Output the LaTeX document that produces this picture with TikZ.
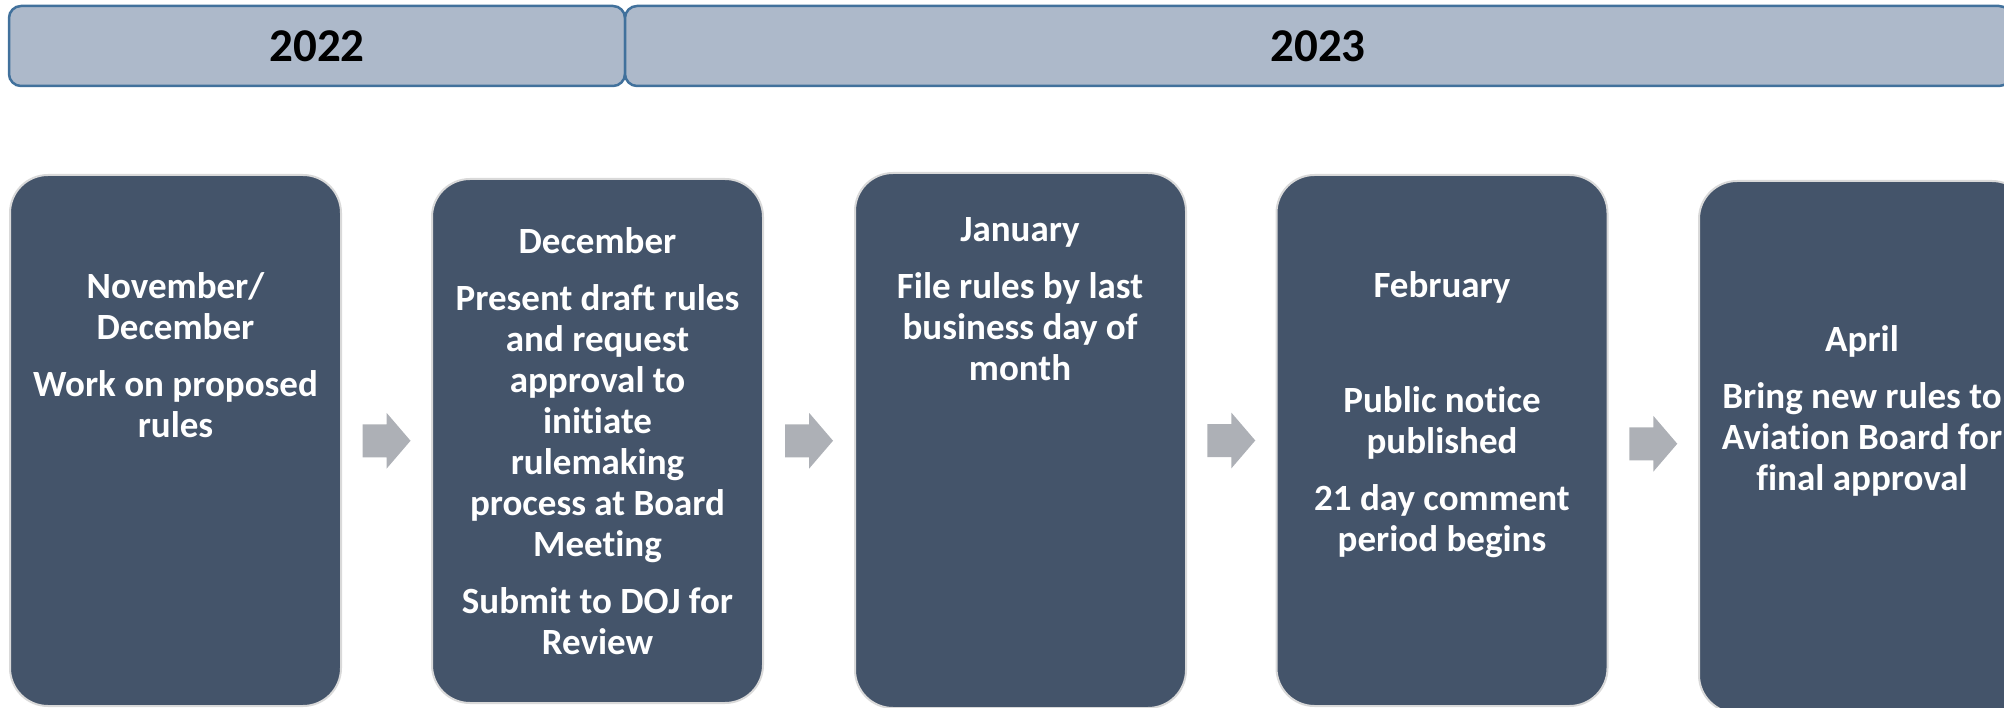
\documentclass[tikz,border=0pt]{standalone}
\definecolor{slate1}{RGB}{68, 84, 106}
\definecolor{barfill}{RGB}{173, 185, 202}
\definecolor{barline}{RGB}{65, 113, 156}
\definecolor{arrowgray}{RGB}{173, 176, 182}
\definecolor{cardline}{RGB}{217, 217, 217}
\usepackage{fontspec}
\setmainfont{Carlito}[Ligatures=NoCommon]
\usetikzlibrary{positioning, calc}

\begin{document}
\begin{tikzpicture}[x=1pt, y=-1pt,
  yearbar/.style={draw=barline, line width=2.5pt, fill=barfill, rounded corners=12pt, inner sep=0pt, minimum height=80pt, font=\fontsize{47}{55}\selectfont\bfseries},
  card/.style={draw=cardline, line width=2pt, fill=slate1, rounded corners=38pt, minimum width=331pt, inner sep=0pt},
  cardtext/.style={text=white, align=center, inner sep=0pt, font=\fontsize{37}{41}\selectfont\bfseries}]
  \useasboundingbox (0,0) rectangle (2004,708);
  \clip (0,0) rectangle (2004,708);
  % year headers
  \node[yearbar, minimum width=616pt] (y22) at (317,46) {2022};
  \node[yearbar, minimum width=1386pt] (y23) at (1318,46) {2023};
  % cards
  \node[card, minimum height=531pt] (c1) at (175.5,440.5) {};
  \node[card, minimum height=524pt] (c2) at (597.5,441) {};
  \node[card, minimum height=535pt] (c3) at (1020.5,440.5) {};
  \node[card, minimum height=531pt] (c4) at (1442,440.5) {};
  \node[card, minimum height=532pt] (c5) at (1864.5,447) {};
  % arrows between cards
  \foreach \a/\b in {c1/c2, c2/c3, c3/c4, c4/c5}
    \fill[arrowgray] ($(\a.east)!0.5!(\b.west)$) ++(-24,-16.5) -- ++(24,0) -- ++(0,-11.5) -- ++(24,28) -- ++(-24,28) -- ++(0,-11.5) -- ++(-24,0) -- cycle;
  % card texts
  \node[cardtext] (t1) at (175.5,355) {November/\\December\\[16pt]Work on proposed\\rules};
  \node[cardtext] (t2) at (597.5,441) {December\\[16pt]Present draft rules\\and request\\approval to\\initiate\\rulemaking\\process at Board\\Meeting\\[16pt]Submit to DOJ for\\Review};
  \node[cardtext] (t3) at (1020,299) {January\\[16pt]File rules by last\\business day of\\month};
  \node[cardtext] (t4) at (1442,415) {February\\[74pt]Public notice\\published\\[16pt]21 day comment\\period begins};
  \node[cardtext] (t5) at (1862,411) {April\\[16pt]Bring new rules to\\Aviation Board for\\final approval};
\end{tikzpicture}
\end{document}
